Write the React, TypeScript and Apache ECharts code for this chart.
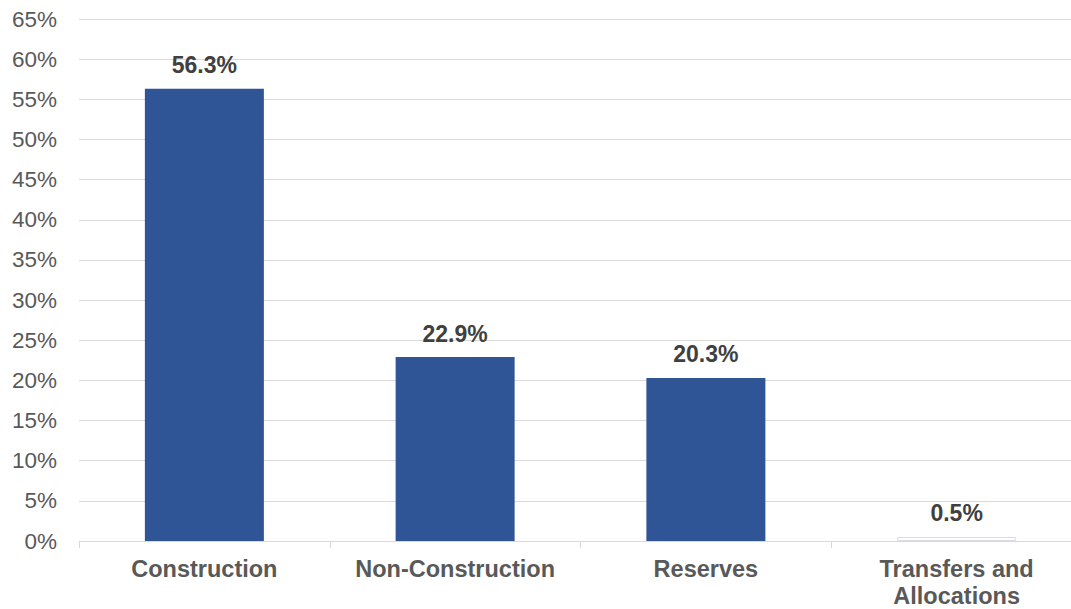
import React, { useEffect, useRef } from "react";
import * as echarts from "echarts";

const categories = ["Construction", "Non-Construction", "Reserves", "Transfers and\nAllocations"];
const values = [56.3, 22.9, 20.3, 0.5];
const barColors = ["#2F5597", "#2F5597", "#2F5597", "#FFFFFF"];

export default function App() {
  const ref = useRef<HTMLDivElement>(null);
  useEffect(() => {
    if (!ref.current) return;
    document.documentElement.style.overflow = "hidden";
    document.body.style.margin = "0";
    document.body.style.overflow = "hidden";
    const chart = echarts.init(ref.current, undefined, { renderer: "svg" });
    chart.setOption({
      animation: false,
      backgroundColor: "#ffffff",
      grid: { left: 79, top: 19, bottom: 68, right: 0, containLabel: false },
      xAxis: {
        type: "category",
        data: categories,
        axisLine: { show: true, lineStyle: { color: "#D9D9D9", width: 1 } },
        axisTick: { show: true, length: 7, lineStyle: { color: "#D9D9D9" } },
        axisLabel: {
          color: "#595959",
          fontFamily: "Liberation Sans, Arial, sans-serif",
          fontWeight: "bold",
          fontSize: 23.5,
          margin: 14,
          lineHeight: 27,
          interval: 0,
        },
      },
      yAxis: {
        type: "value",
        min: 0,
        max: 65,
        interval: 5,
        axisLine: { show: false },
        axisTick: { show: false },
        splitLine: { show: true, lineStyle: { color: "#D9D9D9", width: 1 } },
        axisLabel: {
          formatter: "{value}%",
          color: "#595959",
          fontFamily: "Liberation Sans, Arial, sans-serif",
          fontSize: 22.5,
          margin: 22,
        },
      },
      series: [
        {
          type: "bar",
          barWidth: 119,
          data: values.map((v, i) => ({
            value: v,
            itemStyle: {
              color: barColors[i],
              borderColor: i === 3 ? "#DCDCE8" : barColors[i],
              borderWidth: i === 3 ? 1 : 0,
            },
          })),
          label: {
            show: true,
            position: "top",
            distance: 12,
            formatter: (p: any) => p.value.toFixed(1) + "%",
            color: "#404040",
            fontFamily: "Liberation Sans, Arial, sans-serif",
            fontWeight: "bold",
            fontSize: 23,
          },
        },
      ],
    });
    return () => chart.dispose();
  }, []);
  return (
    <div style={{ width: 1071, height: 609, overflow: "hidden", position: "relative", background: "#fff" }}>
      <div
        ref={ref}
        style={{ position: "absolute", left: 0, top: 0, width: 1082, height: 609, background: "#fff" }}
      />
    </div>
  );
}
